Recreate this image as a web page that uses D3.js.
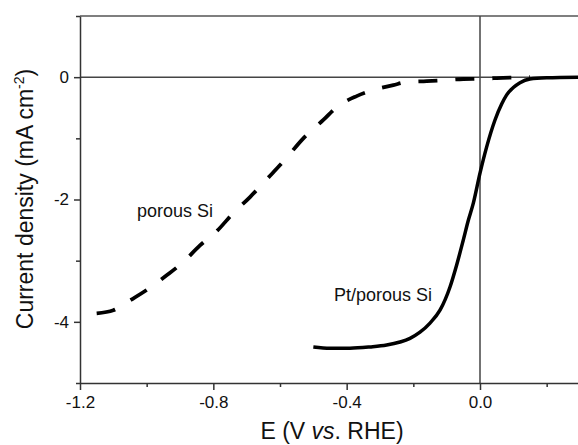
<!DOCTYPE html>
<html>
<head>
<meta charset="utf-8">
<script src="https://cdn.jsdelivr.net/npm/d3@7"></script>
<style>
  body { margin: 0; background: #fff; }
  text { font-family: "Liberation Sans", Arial, sans-serif; fill: #111; }
</style>
</head>
<body>
<div id="chart"></div>
<script>
// porous Si (dashed)
const porousE = [-1.15, -1.10, -1.05, -1.00, -0.94, -0.89, -0.84, -0.79, -0.74, -0.69, -0.64, -0.59, -0.53, -0.47, -0.43, -0.37, -0.32, -0.26, -0.22, -0.16, -0.11, -0.05, 0.00, 0.05, 0.10, 0.15];
const porousJ = [-3.86, -3.81, -3.65, -3.48, -3.24, -3.02, -2.75, -2.52, -2.22, -1.96, -1.67, -1.38, -1.00, -0.70, -0.49, -0.31, -0.21, -0.13, -0.08, -0.065, -0.05, -0.03, -0.025, -0.015, -0.005, 0];

// Pt/porous Si (solid)
const ptE = [-0.50, -0.45, -0.39, -0.33, -0.28, -0.24, -0.21, -0.18, -0.15, -0.12, -0.09, -0.07, -0.05, -0.035, -0.02, 0.00, 0.02, 0.045, 0.065, 0.08, 0.10, 0.12, 0.15, 0.20, 0.30];
const ptJ = [-4.41, -4.43, -4.43, -4.41, -4.38, -4.33, -4.27, -4.17, -4.02, -3.81, -3.43, -3.07, -2.66, -2.34, -2.06, -1.57, -1.14, -0.70, -0.44, -0.29, -0.17, -0.09, -0.03, -0.01, 0];

const xMajor = [-1.2, -0.8, -0.4, 0.0];
const xMinor = [-1.0, -0.6, -0.2, 0.2];
const yMajor = [0, -2, -4];
const yMinor = [1, -1, -3, -5];

const width = 578, height = 445;

const svg = d3.select("#chart")
  .append("svg")
  .attr("width", width)
  .attr("height", height);

const x = d3.scaleLinear().domain([-1.2, 0.3]).range([80, 580]);
const y = d3.scaleLinear().domain([-5, 1]).range([383, 16]);

const axisColor = "#333";

// reference lines: top frame, zero current, zero potential
svg.append("line")
  .attr("x1", x(-1.2)).attr("x2", x(0.3))
  .attr("y1", y(1)).attr("y2", y(1))
  .attr("stroke", "#555").attr("stroke-width", 1.5);

svg.append("line")
  .attr("x1", x(-1.2)).attr("x2", x(0.3))
  .attr("y1", y(0)).attr("y2", y(0))
  .attr("stroke", "#444").attr("stroke-width", 1.5);

svg.append("line")
  .attr("x1", x(0)).attr("x2", x(0))
  .attr("y1", y(1)).attr("y2", y(-5))
  .attr("stroke", "#444").attr("stroke-width", 1.5);

// x axis
const xAxis = svg.append("g")
  .attr("transform", `translate(0, ${y(-5)})`)
  .call(d3.axisBottom(x).tickValues(xMajor).tickFormat(d3.format(".1f")).tickSize(7).tickPadding(6).tickSizeOuter(0));
xAxis.selectAll("text").text(d => d3.format(".1f")(d).replace("−", "-")).style("font-size", "17px");

svg.append("g")
  .attr("transform", `translate(0, ${y(-5)})`)
  .call(d3.axisBottom(x).tickValues(xMinor).tickFormat("").tickSize(4).tickSizeOuter(0))
  .call(g => g.select(".domain").remove());

// y axis
const yAxis = svg.append("g")
  .attr("transform", `translate(${x(-1.2)}, 0)`)
  .call(d3.axisLeft(y).tickValues(yMajor).tickFormat(d => String(d)).tickSize(6).tickPadding(5).tickSizeOuter(0));
yAxis.selectAll("text").style("font-size", "17px");

svg.append("g")
  .attr("transform", `translate(${x(-1.2)}, 0)`)
  .call(d3.axisLeft(y).tickValues(yMinor).tickFormat("").tickSize(4).tickSizeOuter(0))
  .call(g => g.select(".domain").remove());

svg.selectAll(".domain, .tick line")
  .attr("stroke", axisColor)
  .attr("stroke-width", 1.5);
svg.selectAll(".tick text").attr("fill", "#111");

// curves
const line = d3.line()
  .x(d => x(d[0]))
  .y(d => y(d[1]))
  .curve(d3.curveMonotoneX);

svg.append("path")
  .datum(porousE.map((e, i) => [e, porousJ[i]]))
  .attr("d", line)
  .attr("fill", "none")
  .attr("stroke", "#000")
  .attr("stroke-width", 3.8)
  .attr("stroke-dasharray", "19,18");

svg.append("path")
  .datum(ptE.map((e, i) => [e, ptJ[i]]))
  .attr("d", line)
  .attr("fill", "none")
  .attr("stroke", "#000")
  .attr("stroke-width", 3.5);

// curve labels
svg.append("text")
  .attr("x", 137).attr("y", 217)
  .style("font-size", "18px")
  .text("porous Si");

svg.append("text")
  .attr("x", 334).attr("y", 301)
  .style("font-size", "18px")
  .text("Pt/porous Si");

// axis titles
const xTitle = svg.append("text")
  .attr("x", 332).attr("y", 439)
  .attr("text-anchor", "middle")
  .style("font-size", "23px");
xTitle.append("tspan").text("E (V ");
xTitle.append("tspan").style("font-style", "italic").text("vs");
xTitle.append("tspan").text(". RHE)");

const yTitle = svg.append("text")
  .attr("transform", "translate(33, 199) rotate(-90)")
  .attr("text-anchor", "middle")
  .style("font-size", "23px");
yTitle.append("tspan").text("Current density (mA cm");
yTitle.append("tspan").attr("dy", -9).style("font-size", "14px").text("-2");
yTitle.append("tspan").attr("dy", 9).text(")");
</script>
</body>
</html>
